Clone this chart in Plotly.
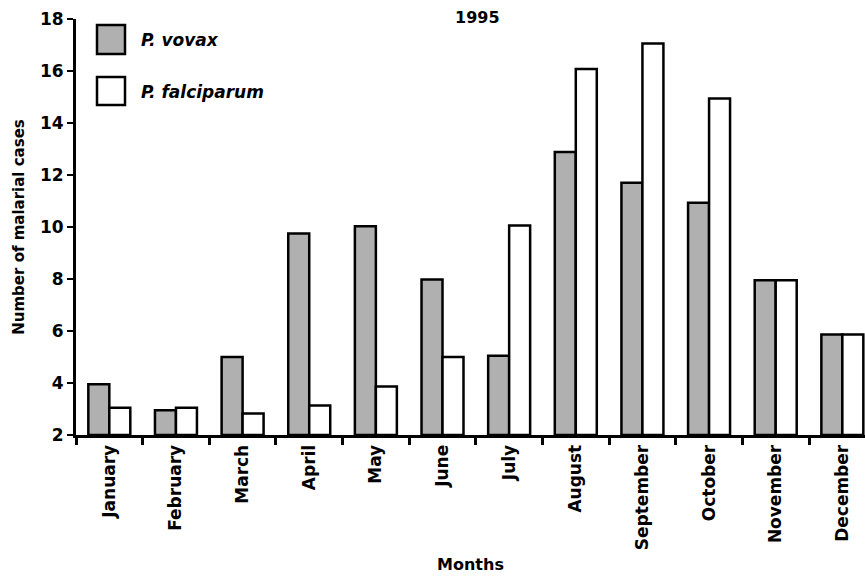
import plotly.graph_objects as go

months = ["January", "February", "March", "April", "May", "June", "July",
          "August", "September", "October", "November", "December"]
vivax = [3.95, 2.95, 5.0, 9.75, 10.03, 7.98, 5.05, 12.88, 11.7, 10.93, 7.95, 5.87]
falciparum = [3.05, 3.05, 2.83, 3.13, 3.87, 5.0, 10.06, 16.08, 17.06, 14.94, 7.95, 5.87]
series_names = ["P. vovax", "P. falciparum"]
y_ticks = [2, 4, 6, 8, 10, 12, 14, 16, 18]

FONT = "DejaVu Sans"
GRAY = "#b0b0b0"

fig = go.Figure()
fig.add_trace(go.Bar(x=months, y=[v - 2 for v in vivax], base=2, name=series_names[0],
                     marker=dict(color=GRAY, line=dict(color="black", width=2.5)),
                     showlegend=False))
fig.add_trace(go.Bar(x=months, y=[v - 2 for v in falciparum], base=2, name=series_names[1],
                     marker=dict(color="white", line=dict(color="black", width=2.5)),
                     showlegend=False))

W, H = 865, 582
PL, PR, PT, PB = 76, 865, 19, 435  # plot area in page pixels
L, R, T, B = PL, W - PR, PT, H - PB


def px(x):
    return (x - PL) / (PR - PL)


def py(y):
    return 1 - (y - PT) / (PB - PT)


legend_items = [(series_names[0], GRAY, 25, 54), (series_names[1], "white", 77, 105)]
for name, col, y0, y1 in legend_items:
    fig.add_shape(type="rect", xref="paper", yref="paper",
                  x0=px(97), x1=px(125), y0=py(y1), y1=py(y0),
                  fillcolor=col, line=dict(color="black", width=2.5))
    fig.add_annotation(xref="paper", yref="paper", x=px(139), y=py((y0 + y1) / 2 + 1),
                       text="<b><i>" + name + "</i></b>", showarrow=False,
                       xanchor="left", yanchor="middle",
                       font=dict(family=FONT, size=17, color="black"))

fig.add_annotation(xref="paper", yref="paper", x=px(477), y=py(18),
                   text="<b>1995</b>", showarrow=False, xanchor="center", yanchor="middle",
                   font=dict(family=FONT, size=16, color="black"))

fig.update_layout(
    width=W, height=H,
    margin=dict(l=L, r=R, t=T, b=B, pad=0),
    plot_bgcolor="white", paper_bgcolor="white",
    barmode="group", bargap=0.37, bargroupgap=0,
    font=dict(family=FONT, size=16, color="black"),
    xaxis=dict(
        type="category", range=[-0.5, 11.34], automargin=False,
        showline=True, linecolor="black", linewidth=3,
        ticks="outside", tickson="boundaries", ticklen=7, tickwidth=3, tickcolor="black",
        tickangle=-90, tickfont=dict(family=FONT, size=17, color="black", weight="bold"),
        title=dict(text="Months", font=dict(family=FONT, size=16, weight="bold"), standoff=10),
        showgrid=False, zeroline=False,
    ),
    yaxis=dict(
        range=[2, 18], tickvals=y_ticks, automargin=False,
        showline=True, linecolor="black", linewidth=3,
        ticks="outside", ticklen=6, tickwidth=2, tickcolor="black",
        tickfont=dict(family=FONT, size=17, color="black", weight="bold"),
        title=dict(text="Number of malarial cases", font=dict(family=FONT, size=15, weight="bold"),
                   standoff=12),
        showgrid=False, zeroline=False,
    ),
)

fig.write_html("out.html",
               config={"displayModeBar": False},
               post_script="document.body.style.margin='0';document.body.style.overflow='hidden';")
